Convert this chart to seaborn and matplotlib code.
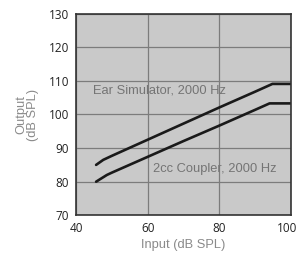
import pandas as pd
import numpy as np
import seaborn as sns
import matplotlib
matplotlib.use('Agg')
import matplotlib.pyplot as plt
import matplotlib.transforms as mtransforms

# curve points
ear_x = [45.6, 47.6, 50, 60, 70, 80, 90, 94.8, 100]
ear_y = [85.0, 86.5, 87.7, 92.5, 97.3, 102.1, 106.8, 109.1, 109.1]
cpl_x = [45.6, 48.6, 50, 60, 70, 80, 90, 94.0, 100]
cpl_y = [80.0, 82.0, 82.7, 87.4, 92.1, 96.7, 101.4, 103.3, 103.3]

x_ticks = [40, 60, 80, 100]
y_ticks = [70, 80, 90, 100, 110, 120, 130]

df = pd.concat([
    pd.DataFrame({'input': ear_x, 'output': ear_y, 'curve': 'Ear Simulator, 2000 Hz'}),
    pd.DataFrame({'input': cpl_x, 'output': cpl_y, 'curve': '2cc Coupler, 2000 Hz'}),
])

sns.set_style('white')
plt.rcParams['font.family'] = ['Open Sans', 'DejaVu Sans']

fig = plt.figure(figsize=(2.97, 2.58), dpi=100)
ax = fig.add_axes([0.256, 0.1655, 0.724, 0.7815])
ax.set_facecolor('#c9c9c9')

sns.lineplot(data=df, x='input', y='output', units='curve', estimator=None,
             color='#1a1a1a', linewidth=1.9, ax=ax, legend=False, sort=False)

ax.set_xlim(40, 100)
ax.set_ylim(70, 130)
ax.set_xticks(x_ticks)
ax.set_yticks(y_ticks)
ax.grid(True, color='#7c7c7c', linewidth=0.9)
ax.set_axisbelow(True)
for s in ax.spines.values():
    s.set_color('#333333')
    s.set_linewidth(1.2)
ax.tick_params(length=0, labelsize=8.5, colors='#222222', pad=5)

# last x label sits a little left so it stays inside the picture
last = ax.get_xticklabels()[-1]
last.set_transform(last.get_transform() + mtransforms.ScaledTranslation(-4/100, 0, fig.dpi_scale_trans))

lab = dict(family=['Liberation Sans', 'DejaVu Sans'])
ax.text(44.7, 107, 'Ear Simulator, 2000 Hz', fontsize=9.3, color='#747474',
        va='center', ha='left', **lab)
ax.text(61.4, 83.7, '2cc Coupler, 2000 Hz', fontsize=9.3, color='#747474',
        va='center', ha='left', **lab)

ax.set_xlabel('Input (dB SPL)', fontsize=9.3, color='#8a8a8a', labelpad=3, **lab)
ax.set_ylabel('Output\n(dB SPL)', fontsize=9.3, color='#8a8a8a',
              linespacing=0.95, labelpad=7, **lab)

fig.savefig('out.png', dpi=100)
